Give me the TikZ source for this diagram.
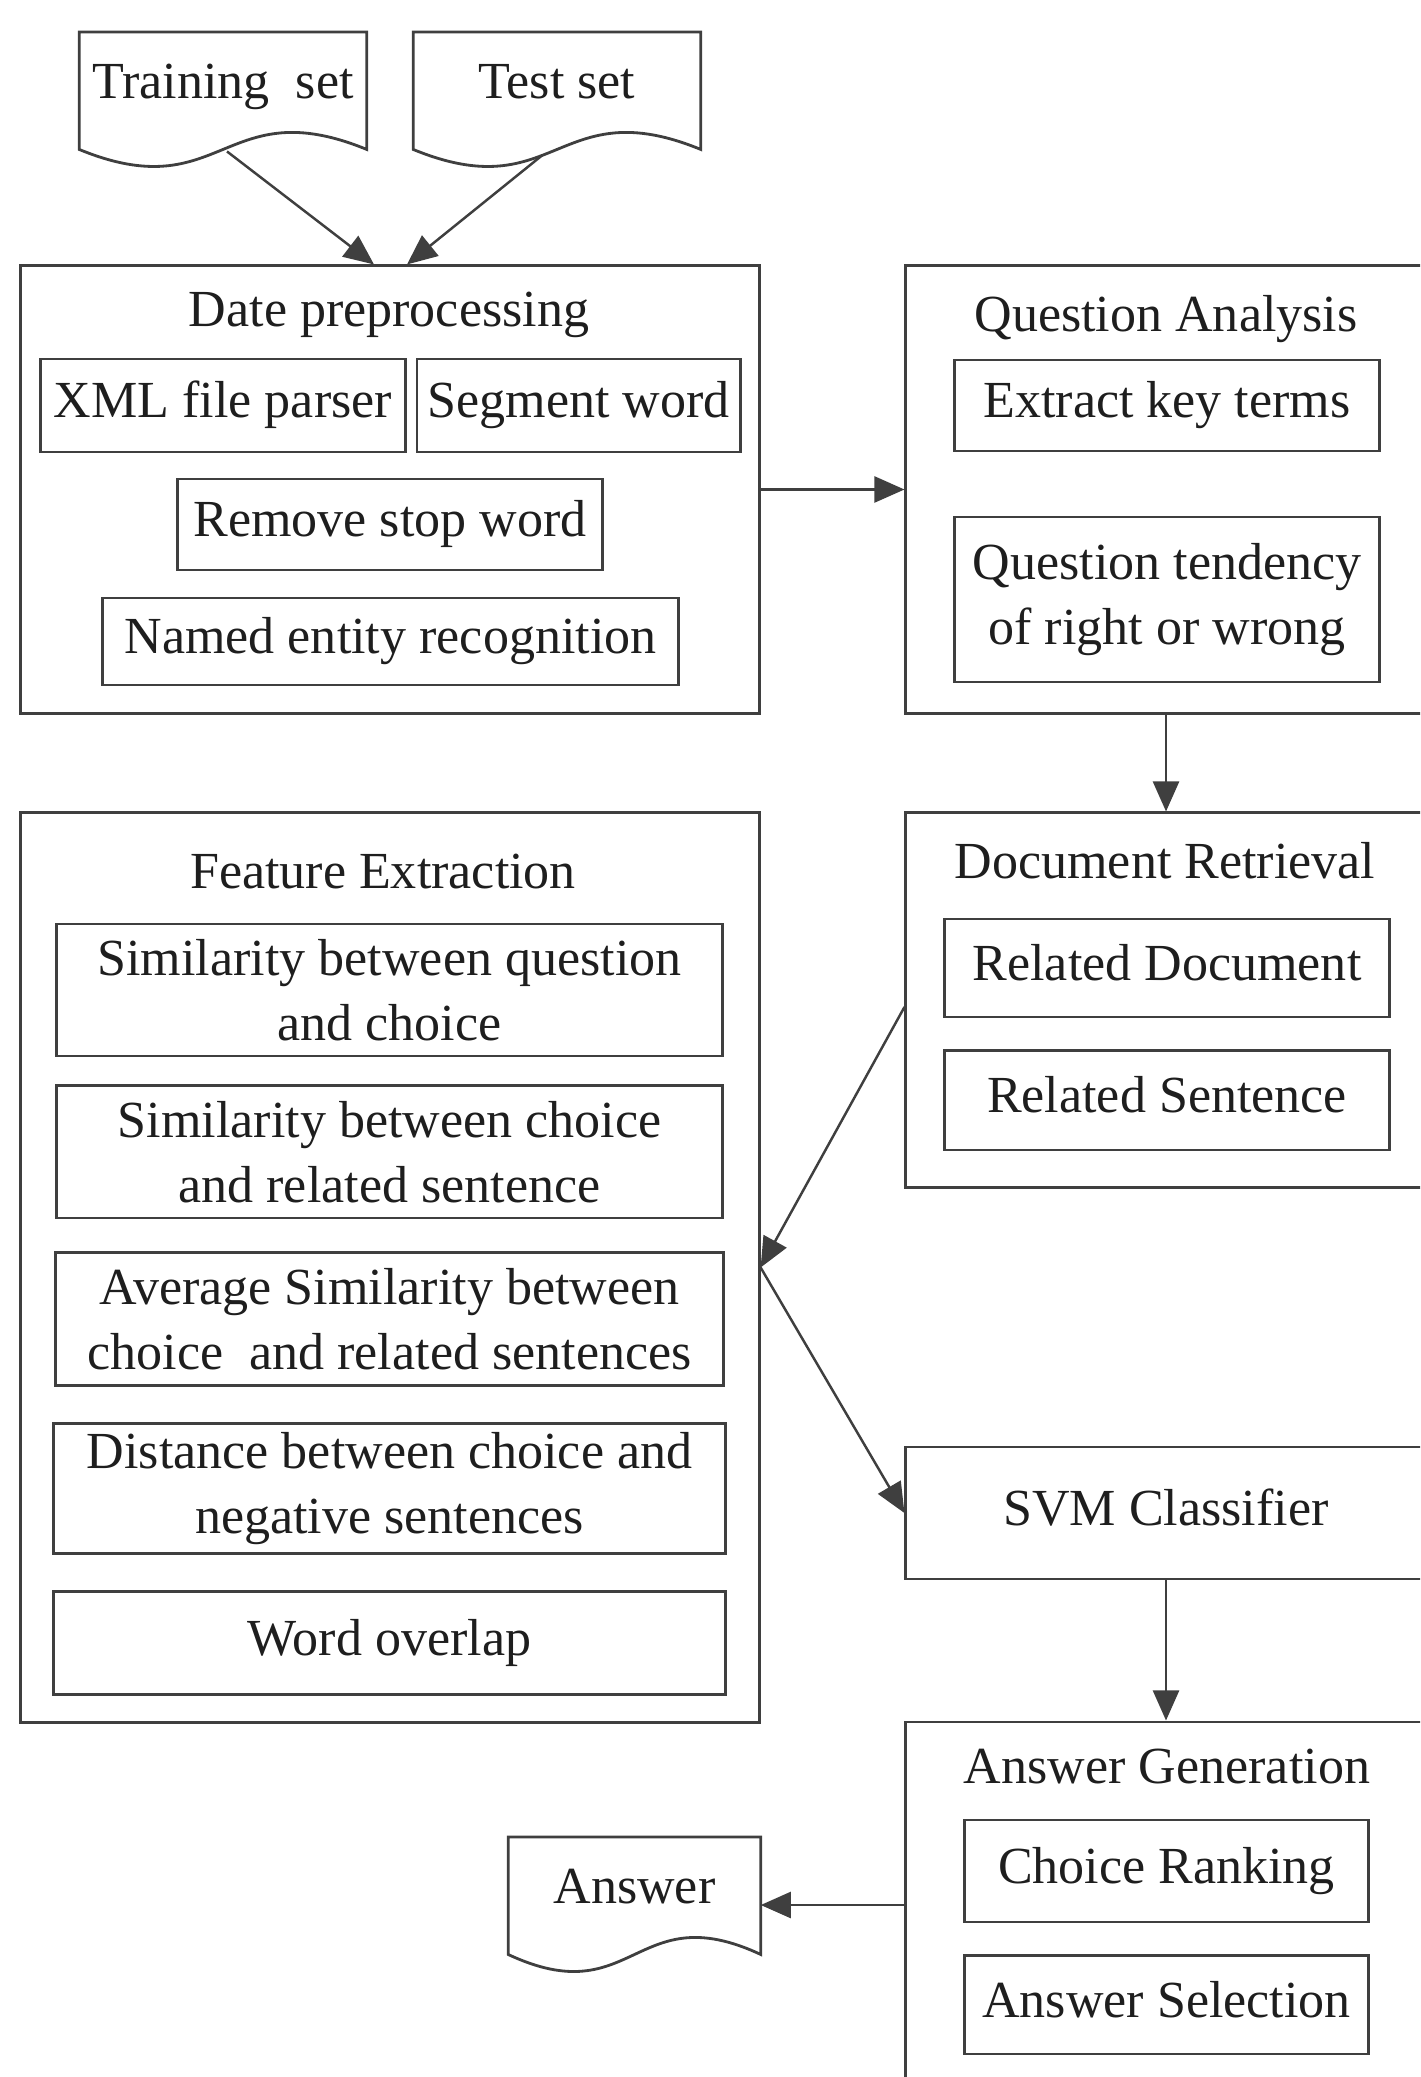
\documentclass[tikz,border=0pt]{standalone}
\usepackage{fontspec}
\setmainfont{Liberation Serif}
\usetikzlibrary{arrows.meta,positioning,calc}
\definecolor{linec}{HTML}{3F3F3F}
\definecolor{textc}{HTML}{1E1E1E}
\newcommand{\boxfont}{\fontsize{14.8}{18.4}\selectfont}
% document outline with wavy bottom around a doc node
\newcommand{\docoutline}[1]{%
  \draw[docline] (#1.north west) -- (#1.north east) -- ($(#1.south east)+(0,8)$)
    .. controls ($(#1.south)+(0,-51)$) and ($(#1.south)+(0,67)$) .. ($(#1.south west)+(0,8)$) -- cycle;}

\begin{document}
\begin{tikzpicture}[
  x=0.01cm, y=-0.01cm,
  panel/.style={rectangle, draw=linec, line width=0.8pt, inner sep=0pt, font=\boxfont, text=textc},
  item/.style={rectangle, draw=linec, line width=0.8pt, inner sep=0pt, align=center, font=\boxfont, text=textc},
  single/.style={item, text height=10.2pt, text depth=3.3pt},
  heading/.style={font=\boxfont, text=textc, inner sep=0pt, anchor=base},
  doc/.style={inner sep=0pt, font=\boxfont, text=textc, minimum height=1.08cm, anchor=north, text height=10.2pt, text depth=3.3pt},
  docline/.style={draw=linec, line width=0.8pt},
  arrow/.style={-{Triangle[length=3mm, width=2.6mm]}, line width=0.7pt, draw=linec},
  node distance=0.3cm
]
\clip (0,0) rectangle (1420,2077);

% input documents
\node[doc, minimum width=2.86cm] (train) at (223,32) {Training\ \ set};
\node[doc, minimum width=2.86cm] (test) at (557,32) {Test set};
\docoutline{train}
\docoutline{test}

% data preprocessing
\node[panel, minimum width=7.38cm, minimum height=4.47cm] (prep) at (390,489.5) {};
\node[heading] (prep-t) at (389,327) {Date preprocessing};
\node[single, minimum width=3.64cm, minimum height=0.93cm] (xml) at (223,405.5) {XML file parser};
\node[single, minimum width=3.23cm, minimum height=0.93cm] (seg) at (578.5,405.5) {Segment word};
\node[single, minimum width=4.24cm, minimum height=0.91cm] (rsw) at (390,524.5) {Remove stop word};
\node[single, minimum width=5.75cm, minimum height=0.87cm] (ner) at (390.5,641.5) {Named entity recognition};

% question analysis
\node[panel, minimum width=5.2cm, minimum height=4.47cm] (qa) at (1166,489.5) {};
\node[heading] (qa-t) at (1166,332) {Question Analysis};
\node[single, minimum width=4.24cm, minimum height=0.91cm] (ekt) at (1167,405.5) {Extract key terms};
\node[item, minimum width=4.24cm, minimum height=1.65cm] (qtend) at (1167,599.5) {Question tendency\\of right or wrong};

% document retrieval
\node[panel, minimum width=5.2cm, minimum height=3.74cm] (dr) at (1166,1000) {};
\node[heading] (dr-t) at (1165,878) {Document Retrieval};
\node[single, minimum width=4.44cm, minimum height=0.98cm] (rdoc) at (1167,968) {Related Document};
\node[single, minimum width=4.44cm, minimum height=0.99cm, below=0.31cm of rdoc] (rsen) {Related Sentence};

% feature extraction
\node[panel, minimum width=7.38cm, minimum height=9.09cm] (fe) at (390,1267.5) {};
\node[heading] (fe-t) at (383,888) {Feature Extraction};
\node[item, minimum width=6.65cm, minimum height=1.32cm] (simqc) at (389.5,990) {Similarity between question\\and choice};
\node[item, minimum width=6.65cm, minimum height=1.32cm, below=0.27cm of simqc] (simcr) {Similarity between choice\\and related sentence};
\node[item, minimum width=6.67cm, minimum height=1.33cm, below=0.32cm of simcr] (avgsim) {Average Similarity between\\choice\ \ and related sentences};
\node[item, minimum width=6.71cm, minimum height=1.30cm, below=0.35cm of avgsim] (dist) {Distance between choice and\\negative sentences};
\node[single, minimum width=6.71cm, minimum height=1.03cm, below=0.35cm of dist] (wover) {Word overlap};

% classifier and answer generation
\node[panel, minimum width=5.2cm, minimum height=1.32cm, text height=10.2pt, text depth=3.3pt] (svm) at (1166,1513) {SVM Classifier};
\node[panel, minimum width=5.2cm, minimum height=3.66cm] (ag) at (1166,1905) {};
\node[heading] (ag-t) at (1167,1783) {Answer Generation};
\node[single, minimum width=4.03cm, minimum height=1.02cm] (crank) at (1166.5,1871) {Choice Ranking};
\node[single, minimum width=4.03cm, minimum height=0.98cm, below=0.31cm of crank] (asel) {Answer Selection};

\node[doc, minimum width=2.51cm] (ans) at (634.5,1837) {Answer};
\docoutline{ans}

% connectors
\coordinate (train-out) at ($(train.south)+(4,10)$);
\coordinate (test-out) at ($(test.south)+(-15,14)$);
\draw[arrow] (train-out) -- ($(prep.north)+(-16,0)$);
\draw[arrow] (test-out) -- ($(prep.north)+(17,0)$);
\draw[arrow] (prep.east) -- (qa.west);
\draw[arrow] (qa.south) -- (dr.north);
\draw[arrow] ($(dr.west)+(0,7)$) -- (fe.east);
\draw[arrow] (fe.east) -- (svm.west);
\draw[arrow] (svm.south) -- (ag.north);
\draw[arrow] (ag.west) -- (ag.west -| ans.east);
\end{tikzpicture}
\end{document}
